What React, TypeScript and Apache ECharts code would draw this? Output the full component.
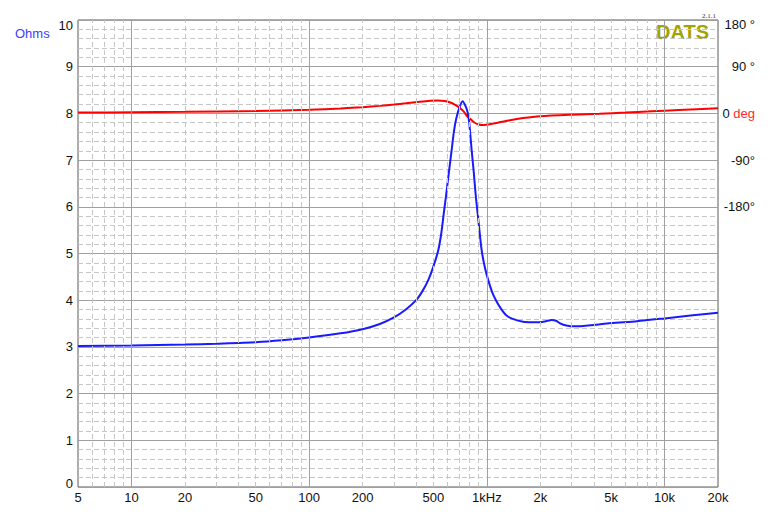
import React, { useEffect, useRef } from "react";
import * as echarts from "echarts";

// Impedance (Ohms) vs frequency (Hz)
const impFreq = [5, 10, 20, 30, 50, 70, 100, 150, 200, 250, 300, 350, 400, 435, 468, 500, 533, 555, 574, 590, 612, 634, 652, 670, 700, 731, 760, 780, 796, 821, 845, 868, 894, 935, 975, 1018, 1070, 1125, 1200, 1292, 1400, 1600, 1800, 2000, 2150, 2320, 2450, 2600, 2800, 3100, 3500, 4000, 5000, 7000, 10000, 14000, 20000];
const impOhms = [3.02, 3.03, 3.05, 3.07, 3.1, 3.14, 3.2, 3.29, 3.38, 3.49, 3.63, 3.8, 4.0, 4.2, 4.43, 4.72, 5.07, 5.45, 5.9, 6.25, 6.75, 7.22, 7.6, 7.86, 8.12, 8.26, 8.15, 8.02, 7.8, 7.22, 6.72, 6.2, 5.75, 5.07, 4.7, 4.43, 4.18, 4.0, 3.82, 3.67, 3.6, 3.54, 3.53, 3.53, 3.55, 3.575, 3.56, 3.5, 3.46, 3.44, 3.45, 3.47, 3.51, 3.55, 3.61, 3.67, 3.73];

// Phase (degrees) vs frequency (Hz)
const phaseFreq = [5, 10, 20, 50, 100, 150, 200, 250, 300, 350, 420, 480, 530, 580, 617, 660, 700, 740, 776, 815, 855, 900, 940, 990, 1035, 1150, 1350, 1600, 2000, 3000, 4300, 6000, 8400, 12000, 20000];
const phaseDeg = [1.5, 2, 3, 4.7, 7, 9.5, 12, 14.5, 17, 19.5, 22.5, 24.3, 25, 24, 21.5, 17, 11.5, 4, -5.6, -12, -18, -21.5, -22.5, -22, -21, -18, -13, -9, -5.5, -2.5, -0.5, 1.5, 4, 6.5, 10];

// X tick labels
const tickFreqs = [5, 10, 20, 50, 100, 200, 500, 1000, 2000, 5000, 10000, 20000];
const tickLabels = ["5", "10", "20", "50", "100", "200", "500", "1kHz", "2k", "5k", "10k", "20k"];

// Right axis labels
const phaseTickValues = [180, 90, 0, -90, -180];
const phaseTickLabels = ["180 °", "90 °", "0", "-90°", "-180°"];

const FONT = "'Liberation Sans', Arial, Helvetica, sans-serif";

export default function App() {
  const ref = useRef<HTMLDivElement>(null);
  useEffect(() => {
    if (!ref.current) return;
    const chart = echarts.init(ref.current, null, { renderer: "svg" });

    const decades = [1, 10, 100, 1000, 10000];
    const gridLines: any[] = [];
    decades.forEach((d) => {
      for (let m = 1; m <= 9; m++) {
        const f = m * d;
        if (f < 5 || f > 20000) continue;
        const idx = tickFreqs.indexOf(f);
        const edge = f === 5 || f === 20000;
        const major = m === 1;
        gridLines.push([
          {
            coord: [f, 0],
            lineStyle: {
              color: edge ? "rgba(0,0,0,0)" : major ? "#a0a0a0" : "#c6c6c6",
              type: major ? "solid" : [5, 3],
              width: 1,
            },
            label: idx >= 0
              ? { show: true, formatter: tickLabels[idx], position: "start", distance: 4, color: "#111", fontSize: 13, fontFamily: FONT }
              : { show: false },
          },
          { coord: [f, 10] },
        ]);
      }
    });

    const option: any = {
      animation: false,
      grid: {
        left: 78,
        right: 50,
        top: 20,
        bottom: 30,
        show: true,
        borderColor: "#5a5a5a",
        borderWidth: 1,
        backgroundColor: "transparent",
      },
      xAxis: {
        type: "log",
        logBase: 10,
        min: 5,
        max: 20000,
        axisLine: { show: false },
        axisTick: { show: false },
        axisLabel: { show: false },
        splitLine: { show: false },
      },
      yAxis: [
        {
          type: "value",
          min: 0,
          max: 10,
          interval: 1,
          axisLine: { show: false },
          axisTick: { show: false },
          axisLabel: {
            margin: 5,
            color: "#111",
            fontSize: 13,
            fontFamily: FONT,
            formatter: (v: number) => (v === 10 ? "{top|10}" : v === 0 ? "{bot|0}" : String(v)),
            rich: {
              top: { padding: [10, 0, 0, 0], fontSize: 13, fontFamily: FONT, color: "#111" },
              bot: { padding: [0, 0, 8, 0], fontSize: 13, fontFamily: FONT, color: "#111" },
            },
          },
          splitLine: { show: true, lineStyle: { color: "#a0a0a0", width: 1 } },
          minorTick: { show: false, splitNumber: 5 },
          minorSplitLine: { show: true, lineStyle: { color: "#c6c6c6", type: [5, 3], width: 1 } },
        },
        {
          type: "value",
          position: "right",
          min: -720,
          max: 180,
          interval: 90,
          axisLine: { show: false },
          axisTick: { show: false },
          splitLine: { show: false },
          axisLabel: {
            align: "right",
            margin: 37,
            color: "#111",
            fontSize: 13,
            fontFamily: FONT,
            formatter: (v: number) => {
              const i = phaseTickValues.indexOf(v);
              if (i < 0) return "";
              if (v === 0) return "0 {d|deg}";
              if (v === 180) return "{top|" + phaseTickLabels[i] + "}";
              return phaseTickLabels[i];
            },
            rich: {
              d: { color: "#ff2a2a", fontSize: 13, fontFamily: FONT },
              top: { padding: [8, 0, 0, 0], fontSize: 13, fontFamily: FONT, color: "#111" },
            },
          },
        },
      ],
      graphic: [
        {
          type: "text",
          left: 15,
          top: 27,
          style: { text: "Ohms", fill: "#3c3cff", font: `13px ${FONT}` },
        },
        {
          type: "text",
          right: 59,
          top: 22,
          style: { text: "DATS", fill: "#a3a300", font: `bold 20px ${FONT}` },
        },
        {
          type: "text",
          right: 52,
          top: 12,
          style: { text: "2.1.1", fill: "#333", font: "7px 'Liberation Serif', serif" },
        },
      ],
      series: [
        {
          type: "line",
          data: [],
          clip: false,
          silent: true,
          z: 1,
          yAxisIndex: 0,
          markLine: {
            silent: true,
            symbol: ["none", "none"],
            animation: false,
            data: gridLines,
          },
        },
        {
          name: "Phase",
          type: "line",
          yAxisIndex: 1,
          data: phaseFreq.map((f, i) => [f, phaseDeg[i]]),
          showSymbol: false,
          smooth: 0.25,
          lineStyle: { color: "#ff0000", width: 2 },
          z: 3,
        },
        {
          name: "Impedance",
          type: "line",
          yAxisIndex: 0,
          data: impFreq.map((f, i) => [f, impOhms[i]]),
          showSymbol: false,
          smooth: 0.25,
          lineStyle: { color: "#1a1aff", width: 2 },
          z: 4,
        },
      ],
    };
    chart.setOption(option);
    return () => chart.dispose();
  }, []);
  return (
    <div
      ref={ref}
      style={{ position: "fixed", left: 0, top: 0, width: 768, height: 517, background: "#fff" }}
    />
  );
}
